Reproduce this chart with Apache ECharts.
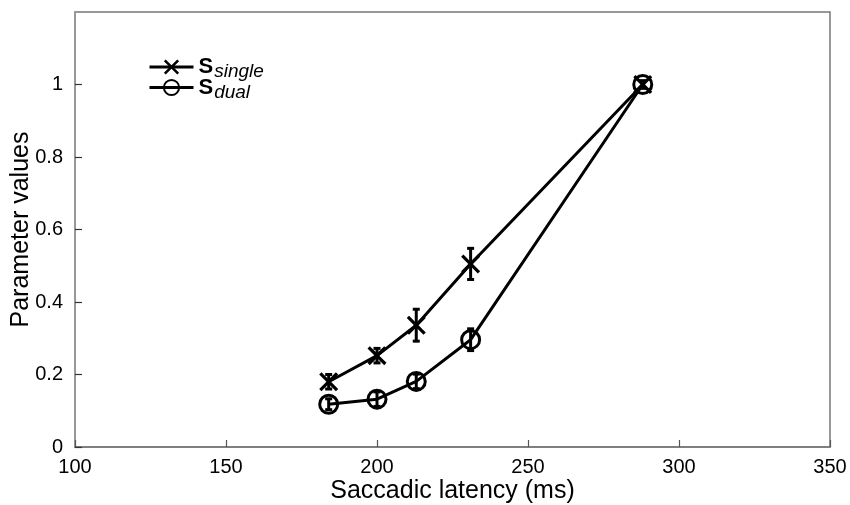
<!DOCTYPE html>
<html>
<head>
<meta charset="utf-8">
<script src="https://cdn.jsdelivr.net/npm/echarts@6/dist/echarts.min.js"></script>
<style>
html,body{margin:0;padding:0;background:#fff;}
#chart{width:850px;height:505px;}
</style>
</head>
<body>
<div id="chart"></div>
<script>
// Data
const latency = [184, 200, 213, 231, 288];
const sSingle = [0.180, 0.252, 0.336, 0.505, 1.0];
const sSingleErr = [0.02, 0.02, 0.044, 0.043, 0.01];
const sDual = [0.118, 0.132, 0.181, 0.296, 1.0];
const sDualErr = [0.015, 0.02, 0.02, 0.03, 0.01];
const xTicks = [100, 150, 200, 250, 300, 350];
const yTicks = [0, 0.2, 0.4, 0.6, 0.8, 1];
const seriesNames = ['single', 'dual'];

const FONT = 'Liberation Sans, Arial, sans-serif';
const xMarker = 'path://M0,1.2L1.2,0L5,3.8L8.8,0L10,1.2L6.2,5L10,8.8L8.8,10L5,6.2L1.2,10L0,8.8L3.8,5Z';

function pairs(xs, ys) { return xs.map((x, i) => [x, ys[i]]); }
function errData(xs, ys, es) { return xs.map((x, i) => [x, ys[i] - es[i], ys[i] + es[i]]); }

function errRender(params, api) {
  const x = api.value(0);
  const lo = api.coord([x, api.value(1)]);
  const hi = api.coord([x, api.value(2)]);
  const cap = 3.5;
  const style = { stroke: '#000', lineWidth: 3, fill: null };
  return {
    type: 'group',
    children: [
      { type: 'line', shape: { x1: lo[0], y1: lo[1], x2: hi[0], y2: hi[1] }, style: style },
      { type: 'line', shape: { x1: lo[0] - cap, y1: lo[1], x2: lo[0] + cap, y2: lo[1] }, style: style },
      { type: 'line', shape: { x1: hi[0] - cap, y1: hi[1], x2: hi[0] + cap, y2: hi[1] }, style: style }
    ]
  };
}

const chart = echarts.init(document.getElementById('chart'), null, { renderer: 'canvas' });
chart.setOption({
  animation: false,
  backgroundColor: '#fff',
  grid: { left: 75, right: 20, top: 12, bottom: 58, show: true, borderColor: '#777', borderWidth: 1.5,
          containLabel: false, outerBoundsMode: 'none' },
  legend: {
    left: 143, top: 51, orient: 'vertical', itemWidth: 44, itemHeight: 19, itemGap: -5,
    data: seriesNames,
    lineStyle: { width: 3, color: '#000' },
    formatter: n => '{s|S}{sub|' + n + '}',
    textStyle: {
      color: '#000', fontFamily: FONT,
      rich: {
        s: { fontSize: 22, fontWeight: 'bold', fontFamily: FONT, color: '#000', padding: [0, 1, 0, 0] },
        sub: { fontSize: 19, fontStyle: 'italic', fontFamily: FONT, color: '#000', padding: [10, 0, 0, 0] }
      }
    }
  },
  xAxis: {
    type: 'value', min: 100, max: 350, interval: 50,
    name: 'Saccadic latency (ms)', nameLocation: 'middle', nameGap: 32, nameMoveOverlap: false,
    nameTextStyle: { fontSize: 25, fontFamily: FONT, color: '#000' },
    axisLine: { show: true, lineStyle: { color: '#777', width: 1.5 } },
    axisTick: { inside: true, length: 7, lineStyle: { color: '#555', width: 1.2 } },
    axisLabel: { fontSize: 20, fontFamily: FONT, color: '#000', margin: 10,
      formatter: v => xTicks.includes(v) ? String(v) : '' },
    splitLine: { show: false }
  },
  yAxis: {
    type: 'value', min: 0, max: 1.2, interval: 0.2,
    name: 'Parameter values', nameLocation: 'middle', nameGap: 41, nameMoveOverlap: false,
    nameTextStyle: { fontSize: 25, fontFamily: FONT, color: '#000' },
    axisLine: { show: true, lineStyle: { color: '#999', width: 1.5 } },
    axisTick: { inside: true, length: 7, lineStyle: { color: '#333', width: 1.2 }, customValues: yTicks },
    axisLabel: { fontSize: 20, fontFamily: FONT, color: '#000', margin: 12, customValues: yTicks,
      formatter: v => { const t = yTicks.find(k => Math.abs(k - v) < 1e-9); return t === undefined ? '' : String(t); } },
    splitLine: { show: false }
  },
  series: [
    {
      name: 'single', type: 'line', data: pairs(latency, sSingle),
      symbol: xMarker, symbolSize: 19,
      lineStyle: { color: '#000', width: 3 },
      itemStyle: { color: '#000', borderWidth: 0 },
      z: 3
    },
    {
      name: 'dual', type: 'line', data: pairs(latency, sDual),
      symbol: 'circle', symbolSize: 18,
      lineStyle: { color: '#000', width: 3 },
      itemStyle: { color: 'rgba(0,0,0,0)', borderColor: '#000', borderWidth: 3 },
      z: 3
    },
    {
      name: 'singleErr', type: 'custom', data: errData(latency, sSingle, sSingleErr),
      renderItem: errRender, encode: { x: 0, y: [1, 2] }, z: 4, silent: true
    },
    {
      name: 'dualErr', type: 'custom', data: errData(latency, sDual, sDualErr),
      renderItem: errRender, encode: { x: 0, y: [1, 2] }, z: 4, silent: true
    }
  ]
});
</script>
</body>
</html>
